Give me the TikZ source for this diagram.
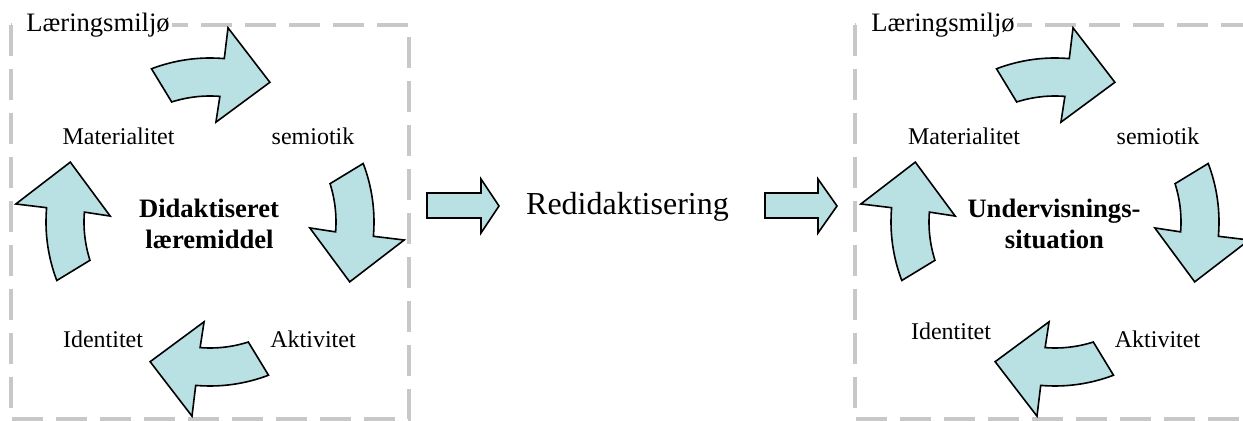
\documentclass[tikz,border=0pt]{standalone}
\usepackage{fontspec}
\setmainfont{Liberation Serif}
\definecolor{arrowblue}{RGB}{185,224,227}
\definecolor{framegray}{RGB}{200,200,200}
\begin{document}
\begin{tikzpicture}[x=0.5pt,y=0.5pt,
  blockarrow/.style={draw=black, line width=0.8pt, fill=arrowblue, line join=miter},
  envframe/.style={draw=framegray, line width=2pt, dash pattern=on 15.5pt off 6.5pt},
  lbl/.style={font=\fontsize{12pt}{14pt}\selectfont, inner sep=0pt, anchor=base},
  title/.style={font=\fontsize{13.3pt}{15.5pt}\selectfont\bfseries, inner sep=0pt, anchor=base},
  envlbl/.style={font=\fontsize{13.3pt}{16pt}\selectfont, fill=white, inner sep=1pt, anchor=base west},
  midlbl/.style={font=\fontsize{16pt}{19pt}\selectfont, inner sep=0pt, anchor=base},
  cyclearrow/.pic={
    \draw[blockarrow] (110.9:164) arc[start angle=110.9, end angle=85, radius=164]
      -- (84.7:195) -- (66.8:152) -- (86.6:100) -- (85.5:126)
      arc[start angle=85.5, end angle=107.7, radius=126] -- cycle;
  }]
\useasboundingbox (0,0) rectangle (1243,-421);

% dashed frames (learning environment)
\draw[envframe] (10.5,-25) rectangle (408.5,-419.5);
\draw[envframe] (854.7,-25) rectangle (1252.7,-419.5);

% left cycle
\coordinate (cL) at (210,-222);
\pic[rotate=0] at (cL) {cyclearrow};
\pic[rotate=-90] at (cL) {cyclearrow};
\pic[rotate=-180] at (cL) {cyclearrow};
\pic[rotate=90] at (cL) {cyclearrow};

\node[envlbl] (envL) at (24,-32) {Læringsmiljø};
\node[lbl] (matL) at (118.5,-145) {Materialitet};
\node[lbl] (semL) at (313,-145) {semiotik};
\node[lbl] (idL) at (103,-348) {Identitet};
\node[lbl] (aktL) at (313,-348) {Aktivitet};
\node[title] (tL1) at (209,-218) {Didaktiseret};
\node[title] (tL2) at (209.5,-249) {læremiddel};

% right cycle
\coordinate (cR) at (1055,-222);
\pic[rotate=0] at (cR) {cyclearrow};
\pic[rotate=-90] at (cR) {cyclearrow};
\pic[rotate=-180] at (cR) {cyclearrow};
\pic[rotate=90] at (cR) {cyclearrow};

\node[envlbl] (envR) at (869,-32) {Læringsmiljø};
\node[lbl] (matR) at (964,-145) {Materialitet};
\node[lbl] (semR) at (1158,-145) {semiotik};
\node[lbl] (idR) at (951,-340) {Identitet};
\node[lbl] (aktR) at (1157.5,-348) {Aktivitet};
\node[title] (tR1) at (1054,-218) {Undervisnings-};
\node[title] (tR2) at (1054.5,-249) {situation};

% transition in the middle
\node[midlbl] (redid) at (627.5,-215) {Redidaktisering};
\draw[blockarrow] (427,-193) -- (481,-193) -- (481,-179) -- (499,-206)
  -- (481,-233) -- (481,-218) -- (427,-218) -- cycle;
\draw[blockarrow] (765,-193) -- (818,-193) -- (818,-179) -- (837,-206)
  -- (818,-233) -- (818,-218) -- (765,-218) -- cycle;
\end{tikzpicture}
\end{document}
